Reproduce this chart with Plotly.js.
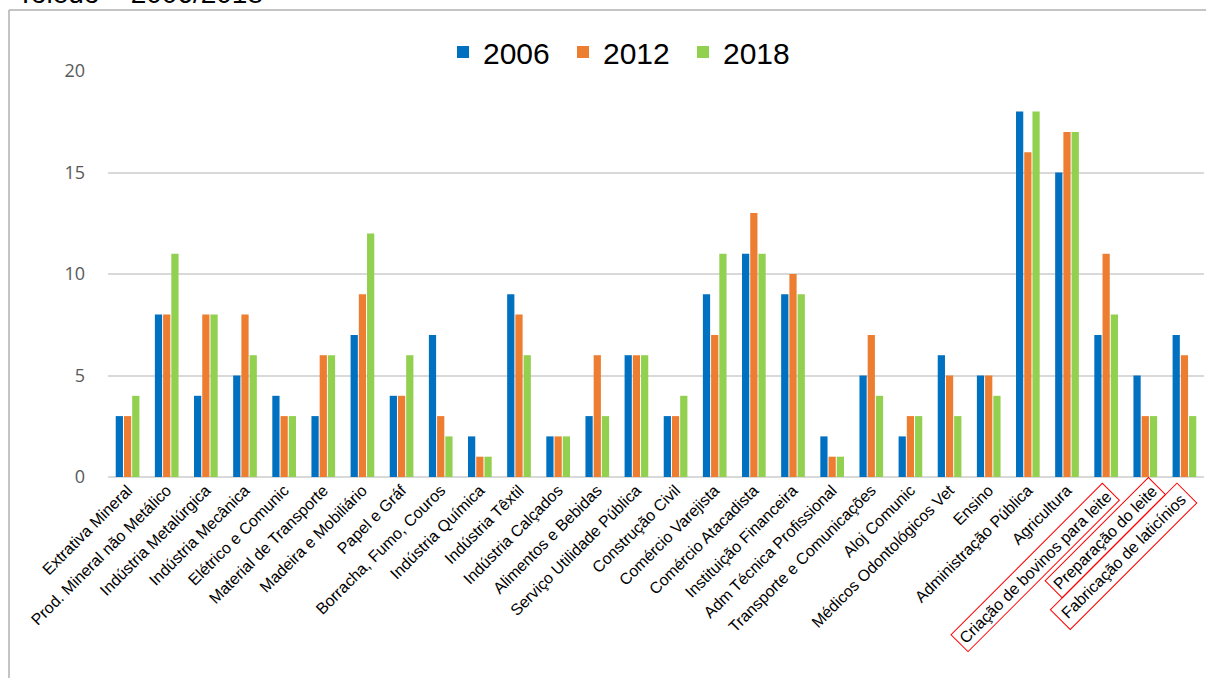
<!DOCTYPE html>
<html>
<head>
<meta charset="utf-8">
<script src="https://cdn.plot.ly/plotly-3.0.1.min.js"></script>
<style>html,body{margin:0;padding:0;background:#fff;}#chart{width:1206px;height:678px;}</style>
</head>
<body>
<div id="chart"></div>
<script>
const categories = [
  "Extrativa Mineral", "Prod. Mineral não Metálico", "Indústria Metalúrgica", "Indústria Mecânica",
  "Elétrico e Comunic", "Material de Transporte", "Madeira e Mobiliário", "Papel e Gráf",
  "Borracha, Fumo, Couros", "Indústria Química", "Indústria Têxtil", "Indústria Calçados",
  "Alimentos e Bebidas", "Serviço Utilidade Pública", "Construção Civil", "Comércio Varejista",
  "Comércio Atacadista", "Instituição Financeira", "Adm Técnica Profissional", "Transporte e Comunicações",
  "Aloj Comunic", "Médicos Odontológicos Vet", "Ensino", "Administração Pública",
  "Agricultura", "Criação de bovinos para leite", "Preparação do leite", "Fabricação de laticínios"
];
const seriesNames = ["2006", "2012", "2018"];
const values2006 = [3, 8, 4, 5, 4, 3, 7, 4, 7, 2, 9, 2, 3, 6, 3, 9, 11, 9, 2, 5, 2, 6, 5, 18, 15, 7, 5, 7];
const values2012 = [3, 8, 8, 8, 3, 6, 9, 4, 3, 1, 8, 2, 6, 6, 3, 7, 13, 10, 1, 7, 3, 5, 5, 16, 17, 11, 3, 6];
const values2018 = [4, 11, 8, 6, 3, 6, 12, 6, 2, 1, 6, 2, 3, 6, 4, 11, 11, 9, 1, 4, 3, 3, 4, 18, 17, 8, 3, 3];
const boxedCategories = ["Criação de bovinos para leite", "Preparação do leite", "Fabricação de laticínios"];
const yTicks = [0, 5, 10, 15, 20];
const titleText = "Toledo – 2006/2018";

const colors = ["#0070C0", "#ED7D31", "#92D050"];
const seriesValues = [values2006, values2012, values2018];

const traces = seriesNames.map((name, i) => ({
  type: "bar",
  name: name,
  x: categories,
  y: seriesValues[i],
  marker: { color: colors[i], line: { width: 0 } },
  hoverinfo: "x+y+name"
}));

const labelFont = { family: "Liberation Sans, Arial, sans-serif", size: 16, color: "#000000" };
const tickText = categories.map(c => boxedCategories.includes(c) ? "" : c);

// plot area pixel geometry
const L = 108, R = 2, T = 71, B = 201, W = 1206, H = 678;
const pw = W - L - R, ph = H - T - B;
const px = v => (v - L) / pw;          // page x -> paper
const py = v => (H - B - v) / ph;       // page y -> paper

const boxStyle = {
  "Criação de bovinos para leite": { dx: 14, dy: -6, pad: 3 },
  "Preparação do leite": { dx: 21, dy: 0, pad: 3 },
  "Fabricação de laticínios": { dx: 13, dy: -6, pad: 5 }
};
const annotations = boxedCategories.map(c => ({
  xref: "x", yref: "y", x: c, y: 0,
  text: c, showarrow: false, textangle: -45,
  xanchor: "right", yanchor: "top",
  xshift: boxStyle[c].dx, yshift: boxStyle[c].dy,
  font: labelFont,
  bordercolor: "#FF0000", borderwidth: 1, borderpad: boxStyle[c].pad
}));
annotations.push({
  xref: "paper", yref: "paper", x: px(15), y: py(11),
  xanchor: "left", yanchor: "bottom", showarrow: false,
  text: titleText,
  font: { family: "Liberation Sans, Arial, sans-serif", size: 28, color: "#000000" }
});

const layout = {
  width: W, height: H,
  margin: { l: L, r: R, t: T, b: B, pad: 0 },
  paper_bgcolor: "#ffffff", plot_bgcolor: "#ffffff",
  barmode: "group", bargap: 0.37, bargroupgap: 0.12,
  showlegend: true,
  legend: {
    orientation: "h", x: px(443), y: py(52), xanchor: "left", yanchor: "middle",
    font: { family: "Liberation Sans, Arial, sans-serif", size: 30, color: "#000000" },
    entrywidth: 75, entrywidthmode: "pixels",
    itemwidth: 30, tracegroupgap: 0, bgcolor: "rgba(0,0,0,0)"
  },
  xaxis: {
    type: "category", tickmode: "array", tickvals: categories, ticktext: tickText,
    tickangle: -45, tickfont: labelFont, showgrid: false, showline: false, ticks: "",
    zeroline: false, automargin: false
  },
  yaxis: {
    range: [0, 20], tickmode: "array", tickvals: yTicks, ticktext: yTicks.map(String),
    tickfont: { family: "Open Sans, Noto Sans, sans-serif", size: 18, color: "#595959" },
    showgrid: true, gridcolor: "#D9D9D9", gridwidth: 2,
    zeroline: true, zerolinecolor: "#D9D9D9", zerolinewidth: 2,
    showline: false, ticks: "", ticklabelstandoff: 22, automargin: false, fixedrange: true
  },
  shapes: [
    { type: "line", xref: "paper", yref: "paper", x0: px(9), x1: px(9), y0: py(10), y1: py(H + 5), line: { color: "#B0B0B0", width: 1.5 } },
    { type: "line", xref: "paper", yref: "paper", x0: px(9), x1: px(W + 5), y0: py(10), y1: py(10), line: { color: "#B0B0B0", width: 1.5 } }
  ],
  annotations: annotations
};

Plotly.newPlot("chart", traces, layout, { displayModeBar: false });
</script>
</body>
</html>
